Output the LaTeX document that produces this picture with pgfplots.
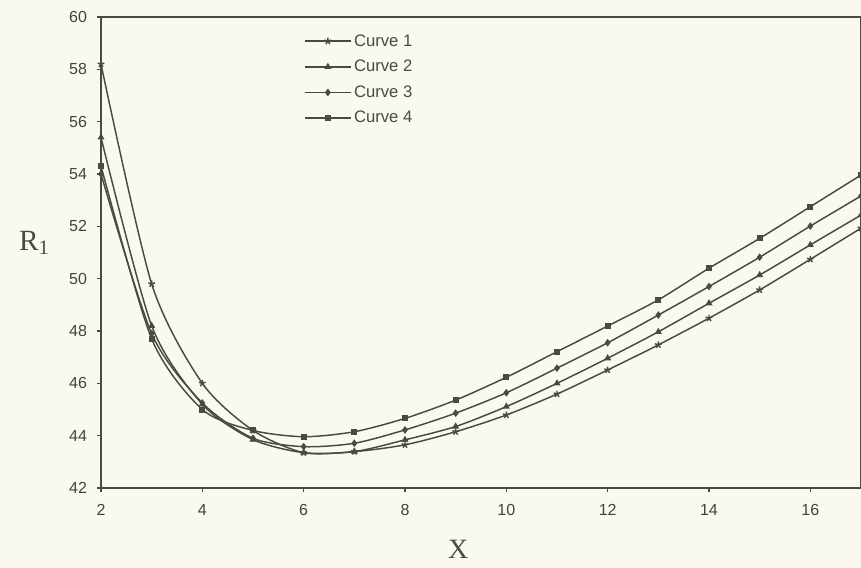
\documentclass[border=0pt]{standalone}
\usepackage{pgfplots}
\pgfplotsset{compat=1.18}
\usepackage{fontspec}
\setmainfont{Liberation Sans}
\newfontfamily\serif{Liberation Serif}
\definecolor{ink}{HTML}{4A4A40}
\definecolor{paper}{HTML}{F9F9F1}

\pgfplotstableread{
x  c1    c2    c3    c4
2  58.2  55.4  54.0  54.3
3  49.8  48.2  47.9  47.7
4  46.0  45.2  45.25 45.0
5  44.2  43.85 43.9  44.2
6  43.35 43.35 43.58 43.96
7  43.39 43.39 43.71 44.15
8  43.65 43.84 44.22 44.66
9  44.15 44.35 44.86 45.36
10 44.79 45.11 45.64 46.23
11 45.59 46.0  46.58 47.21
12 46.51 46.96 47.55 48.19
13 47.47 47.97 48.61 49.19
14 48.49 49.06 49.70 50.40
15 49.57 50.14 50.82 51.54
16 50.74 51.29 52.01 52.75
17 51.93 52.43 53.16 53.96
}\data

\begin{document}
\begin{tikzpicture}
\fill[paper] (-75.75pt,-60pt) rectangle (570pt,366pt);
\begin{axis}[
  at={(0,0)}, anchor=south west,
  scale only axis,
  width=570pt, height=353.25pt,
  xmin=2, xmax=17, ymin=42, ymax=60,
  xtick={2,4,...,16}, ytick={42,44,...,60},
  xtick pos=bottom, ytick pos=left,
  tick align=outside,
  major tick length=3pt,
  axis line style={ink, line width=0.9pt},
  tick style={ink, line width=0.8pt},
  ticklabel style={font=\fontsize{12}{12}\selectfont, text=ink!90!black},
  xticklabel style={yshift=-6pt},
  yticklabel style={xshift=-4pt},
  /pgf/number format/assume math mode=true,
  xlabel={\serif\fontsize{21}{21}\selectfont X},
  ylabel={\serif\fontsize{22}{22}\selectfont R\textsubscript{1}},
  xlabel style={at={(axis description cs:0.47,0)}, anchor=center, yshift=-46pt, text=ink},
  ylabel style={rotate=-90, at={(axis description cs:0,0.52)}, anchor=center, xshift=-50pt, text=ink},
  legend style={draw=none, fill=none, at={(axis description cs:0.262,0.975)}, anchor=north west,
    font=\fontsize{12.5}{12.5}\selectfont, text=ink, row sep=5pt},
  legend cell align=left,
  legend image code/.code={
    \draw[mark repeat=2, mark phase=2] plot coordinates {(0cm,0cm) (0.6cm,0cm) (1.2cm,0cm)};},
]
\addplot[ink, line width=1.1pt, smooth, tension=0.45, mark=star, mark options={solid, scale=1.3}] table[x=x, y=c1] {\data};
\addplot[ink, line width=1.1pt, smooth, tension=0.45, mark=triangle*, mark options={solid, fill=ink, scale=1}] table[x=x, y=c2] {\data};
\addplot[ink, line width=1.1pt, smooth, tension=0.45, mark=diamond*, mark options={solid, fill=ink, scale=1}] table[x=x, y=c3] {\data};
\addplot[ink, line width=1.1pt, smooth, tension=0.45, mark=square*, mark options={solid, fill=ink, scale=0.85}] table[x=x, y=c4] {\data};
\legend{Curve 1, Curve 2, Curve 3, Curve 4}
\end{axis}
\pgfresetboundingbox
\path (-75.75pt,-60pt) rectangle (570pt,366pt);
\end{tikzpicture}
\end{document}
